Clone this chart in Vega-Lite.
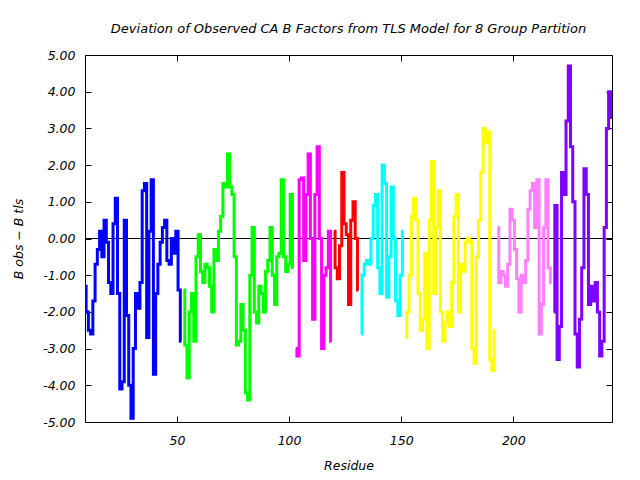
{
 "$schema": "https://vega.github.io/schema/vega-lite/v6.json",
 "width": 527, "height": 367,
 "autosize": "none",
 "padding": {"left": 85, "top": 55, "right": 28, "bottom": 58},
 "background": "white",
 "config": {"view": {"stroke": "black", "strokeWidth": 1}, "font": "DejaVu Sans"},
 "title": {"text": "Deviation of Observed CA B Factors from TLS Model for 8 Group Partition", "fontSize": 13, "font": "DejaVu Sans", "fontStyle": "italic", "fontWeight": "normal", "offset": 13, "anchor": "middle", "color": "black"},
 "datasets": {
  "d": [
   {"r":9,"v":-1.3,"g":"g1"},{"r":10,"v":-2.0,"g":"g1"},{"r":11,"v":-2.5,"g":"g1"},{"r":12,"v":-2.6,"g":"g1"},{"r":13,"v":-1.7,"g":"g1"},{"r":14,"v":-0.7,"g":"g1"},{"r":15,"v":-0.3,"g":"g1"},{"r":16,"v":0.2,"g":"g1"},{"r":17,"v":-0.5,"g":"g1"},{"r":18,"v":0.5,"g":"g1"},{"r":19,"v":-0.1,"g":"g1"},{"r":20,"v":-1.2,"g":"g1"},{"r":21,"v":-1.5,"g":"g1"},{"r":22,"v":0.4,"g":"g1"},{"r":23,"v":1.1,"g":"g1"},{"r":24,"v":-1.5,"g":"g1"},{"r":25,"v":-4.1,"g":"g1"},{"r":26,"v":-3.9,"g":"g1"},{"r":27,"v":0.5,"g":"g1"},{"r":28,"v":-2.1,"g":"g1"},{"r":29,"v":-4.0,"g":"g1"},{"r":30,"v":-4.9,"g":"g1"},{"r":31,"v":-3.0,"g":"g1"},{"r":32,"v":-1.5,"g":"g1"},{"r":33,"v":-1.9,"g":"g1"},{"r":34,"v":-1.2,"g":"g1"},{"r":35,"v":1.3,"g":"g1"},{"r":36,"v":1.5,"g":"g1"},{"r":37,"v":-2.7,"g":"g1"},{"r":38,"v":0.2,"g":"g1"},{"r":39,"v":1.6,"g":"g1"},{"r":40,"v":-3.7,"g":"g1"},{"r":41,"v":-1.5,"g":"g1"},{"r":42,"v":-0.7,"g":"g1"},{"r":43,"v":-0.1,"g":"g1"},{"r":44,"v":0.3,"g":"g1"},{"r":45,"v":0.5,"g":"g1"},{"r":46,"v":-0.6,"g":"g1"},{"r":47,"v":-0.7,"g":"g1"},{"r":48,"v":0.0,"g":"g1"},{"r":49,"v":-0.4,"g":"g1"},{"r":50,"v":0.2,"g":"g1"},{"r":51,"v":-1.4,"g":"g1"},{"r":52,"v":-2.8,"g":"g1"},
   {"r":53,"v":-1.4,"g":"g2"},{"r":54,"v":-2.9,"g":"g2"},{"r":55,"v":-3.8,"g":"g2"},{"r":56,"v":-2.0,"g":"g2"},{"r":57,"v":-1.5,"g":"g2"},{"r":58,"v":-2.8,"g":"g2"},{"r":59,"v":-0.5,"g":"g2"},{"r":60,"v":0.1,"g":"g2"},{"r":61,"v":-0.9,"g":"g2"},{"r":62,"v":-1.2,"g":"g2"},{"r":63,"v":-0.7,"g":"g2"},{"r":64,"v":-0.8,"g":"g2"},{"r":65,"v":-1.3,"g":"g2"},{"r":66,"v":-2.0,"g":"g2"},{"r":67,"v":-0.3,"g":"g2"},{"r":68,"v":-0.6,"g":"g2"},{"r":69,"v":0.2,"g":"g2"},{"r":70,"v":0.6,"g":"g2"},{"r":71,"v":1.5,"g":"g2"},{"r":72,"v":1.4,"g":"g2"},{"r":73,"v":2.3,"g":"g2"},{"r":74,"v":1.4,"g":"g2"},{"r":75,"v":1.2,"g":"g2"},{"r":76,"v":-0.5,"g":"g2"},{"r":77,"v":-2.9,"g":"g2"},{"r":78,"v":-2.8,"g":"g2"},{"r":79,"v":-1.8,"g":"g2"},{"r":80,"v":-2.5,"g":"g2"},{"r":81,"v":-4.2,"g":"g2"},{"r":82,"v":-4.4,"g":"g2"},{"r":83,"v":-1.0,"g":"g2"},{"r":84,"v":0.3,"g":"g2"},{"r":85,"v":-2.0,"g":"g2"},{"r":86,"v":-2.3,"g":"g2"},{"r":87,"v":-1.3,"g":"g2"},{"r":88,"v":-1.5,"g":"g2"},{"r":89,"v":-2.0,"g":"g2"},{"r":90,"v":-0.9,"g":"g2"},{"r":91,"v":-0.6,"g":"g2"},{"r":92,"v":0.3,"g":"g2"},{"r":93,"v":-1.0,"g":"g2"},{"r":94,"v":-1.8,"g":"g2"},{"r":95,"v":-0.5,"g":"g2"},{"r":96,"v":-0.4,"g":"g2"},{"r":97,"v":1.6,"g":"g2"},{"r":98,"v":-0.5,"g":"g2"},{"r":99,"v":-0.9,"g":"g2"},{"r":100,"v":-0.7,"g":"g2"},{"r":101,"v":1.2,"g":"g2"},{"r":102,"v":-0.8,"g":"g2"},
   {"r":103,"v":-3.0,"g":"g3"},{"r":104,"v":-3.2,"g":"g3"},{"r":105,"v":1.6,"g":"g3"},{"r":106,"v":1.65,"g":"g3"},{"r":107,"v":-0.6,"g":"g3"},{"r":108,"v":1.2,"g":"g3"},{"r":109,"v":2.3,"g":"g3"},{"r":110,"v":0.0,"g":"g3"},{"r":111,"v":-2.2,"g":"g3"},{"r":112,"v":1.2,"g":"g3"},{"r":113,"v":2.5,"g":"g3"},{"r":114,"v":0.0,"g":"g3"},{"r":115,"v":-3.0,"g":"g3"},{"r":116,"v":-1.0,"g":"g3"},{"r":117,"v":-0.8,"g":"g3"},{"r":118,"v":0.2,"g":"g3"},{"r":119,"v":-2.8,"g":"g3"},
   {"r":120,"v":0.2,"g":"g4"},{"r":121,"v":-0.8,"g":"g4"},{"r":122,"v":-1.1,"g":"g4"},{"r":123,"v":-0.2,"g":"g4"},{"r":124,"v":1.8,"g":"g4"},{"r":125,"v":0.4,"g":"g4"},{"r":126,"v":0.1,"g":"g4"},{"r":127,"v":-1.8,"g":"g4"},{"r":128,"v":0.5,"g":"g4"},{"r":129,"v":1.0,"g":"g4"},{"r":130,"v":0.0,"g":"g4"},{"r":131,"v":-1.4,"g":"g4"},
   {"r":132,"v":-2.6,"g":"g5"},{"r":133,"v":-1.0,"g":"g5"},{"r":134,"v":-0.7,"g":"g5"},{"r":135,"v":-0.6,"g":"g5"},{"r":136,"v":-0.7,"g":"g5"},{"r":137,"v":0.0,"g":"g5"},{"r":138,"v":0.9,"g":"g5"},{"r":139,"v":1.2,"g":"g5"},{"r":140,"v":-0.8,"g":"g5"},{"r":141,"v":-1.5,"g":"g5"},{"r":142,"v":2.0,"g":"g5"},{"r":143,"v":1.5,"g":"g5"},{"r":144,"v":-1.6,"g":"g5"},{"r":145,"v":-0.5,"g":"g5"},{"r":146,"v":1.4,"g":"g5"},{"r":147,"v":0.0,"g":"g5"},{"r":148,"v":-1.7,"g":"g5"},{"r":149,"v":-2.1,"g":"g5"},{"r":150,"v":-1.0,"g":"g5"},{"r":151,"v":0.2,"g":"g5"},
   {"r":152,"v":-2.7,"g":"g6"},{"r":153,"v":-2.0,"g":"g6"},{"r":154,"v":-1.0,"g":"g6"},{"r":155,"v":0.6,"g":"g6"},{"r":156,"v":1.1,"g":"g6"},{"r":157,"v":0.5,"g":"g6"},{"r":158,"v":-1.5,"g":"g6"},{"r":159,"v":-2.5,"g":"g6"},{"r":160,"v":-2.2,"g":"g6"},{"r":161,"v":-0.4,"g":"g6"},{"r":162,"v":-3.0,"g":"g6"},{"r":163,"v":0.5,"g":"g6"},{"r":164,"v":2.1,"g":"g6"},{"r":165,"v":-1.5,"g":"g6"},{"r":166,"v":0.3,"g":"g6"},{"r":167,"v":1.3,"g":"g6"},{"r":168,"v":-2.0,"g":"g6"},{"r":169,"v":-2.8,"g":"g6"},{"r":170,"v":-2.3,"g":"g6"},{"r":171,"v":-2.0,"g":"g6"},{"r":172,"v":-2.4,"g":"g6"},{"r":173,"v":-1.2,"g":"g6"},{"r":174,"v":0.6,"g":"g6"},{"r":175,"v":1.2,"g":"g6"},{"r":176,"v":-2.0,"g":"g6"},{"r":177,"v":-0.7,"g":"g6"},{"r":178,"v":-0.9,"g":"g6"},{"r":179,"v":-0.1,"g":"g6"},{"r":180,"v":0.0,"g":"g6"},{"r":181,"v":-0.1,"g":"g6"},{"r":182,"v":-3.0,"g":"g6"},{"r":183,"v":-3.4,"g":"g6"},{"r":184,"v":-0.5,"g":"g6"},{"r":185,"v":0.5,"g":"g6"},{"r":186,"v":1.8,"g":"g6"},{"r":187,"v":3.0,"g":"g6"},{"r":188,"v":2.6,"g":"g6"},{"r":189,"v":2.9,"g":"g6"},{"r":190,"v":-3.3,"g":"g6"},{"r":191,"v":-3.6,"g":"g6"},{"r":192,"v":-2.5,"g":"g6"},
   {"r":193,"v":0.3,"g":"g7"},{"r":194,"v":-1.2,"g":"g7"},{"r":195,"v":-0.9,"g":"g7"},{"r":196,"v":-1.0,"g":"g7"},{"r":197,"v":-1.3,"g":"g7"},{"r":198,"v":-0.7,"g":"g7"},{"r":199,"v":0.8,"g":"g7"},{"r":200,"v":0.5,"g":"g7"},{"r":201,"v":-0.3,"g":"g7"},{"r":202,"v":-1.1,"g":"g7"},{"r":203,"v":-2.0,"g":"g7"},{"r":204,"v":-1.0,"g":"g7"},{"r":205,"v":-1.2,"g":"g7"},{"r":206,"v":-0.6,"g":"g7"},{"r":207,"v":0.8,"g":"g7"},{"r":208,"v":1.3,"g":"g7"},{"r":209,"v":1.5,"g":"g7"},{"r":210,"v":0.3,"g":"g7"},{"r":211,"v":1.6,"g":"g7"},{"r":212,"v":-2.6,"g":"g7"},{"r":213,"v":-1.8,"g":"g7"},{"r":214,"v":0.3,"g":"g7"},{"r":215,"v":1.6,"g":"g7"},{"r":216,"v":-0.8,"g":"g7"},{"r":217,"v":-1.2,"g":"g7"},
   {"r":218,"v":-2.0,"g":"g8"},{"r":219,"v":0.9,"g":"g8"},{"r":220,"v":-3.3,"g":"g8"},{"r":221,"v":-2.4,"g":"g8"},{"r":222,"v":1.8,"g":"g8"},{"r":223,"v":1.2,"g":"g8"},{"r":224,"v":3.2,"g":"g8"},{"r":225,"v":4.7,"g":"g8"},{"r":226,"v":2.5,"g":"g8"},{"r":227,"v":1.0,"g":"g8"},{"r":228,"v":-2.6,"g":"g8"},{"r":229,"v":-3.5,"g":"g8"},{"r":230,"v":-2.2,"g":"g8"},{"r":231,"v":-0.8,"g":"g8"},{"r":232,"v":1.9,"g":"g8"},{"r":233,"v":1.2,"g":"g8"},{"r":234,"v":-1.8,"g":"g8"},{"r":235,"v":-1.3,"g":"g8"},{"r":236,"v":-1.7,"g":"g8"},{"r":237,"v":-1.2,"g":"g8"},{"r":238,"v":-2.0,"g":"g8"},{"r":239,"v":-3.2,"g":"g8"},{"r":240,"v":-2.8,"g":"g8"},{"r":241,"v":0.3,"g":"g8"},{"r":242,"v":3.0,"g":"g8"},{"r":243,"v":4.0,"g":"g8"},{"r":244,"v":3.3,"g":"g8"}
  ]
 },
 "resolve": {"axis": {"x": "independent", "y": "independent"}},
 "layer": [
  {
   "data": {"values": [{"z": 0}]},
   "mark": {"type": "rule", "color": "black", "strokeWidth": 1},
   "encoding": {
    "y": {"field": "z", "type": "quantitative", "scale": {"domain": [-5, 5], "nice": false},
          "axis": {"orient": "right", "values": [-5,-4,-3,-2,-1,0,1,2,3,4,5], "labels": false, "title": null, "domain": false, "tickSize": -6, "tickColor": "black", "grid": false}}
   }
  },
  {
   "data": {"name": "d"},
   "mark": {"type": "line", "interpolate": "step", "strokeWidth": 3, "clip": true},
   "encoding": {
    "x": {"field": "r", "type": "quantitative", "scale": {"domain": [9, 244], "nice": false, "zero": false},
          "axis": {"values": [50,100,150,200], "title": "Residue", "grid": false, "domain": false, "tickSize": -6, "tickColor": "black", "labelPadding": 18, "labelFont": "DejaVu Sans", "labelFontStyle": "italic", "labelFontSize": 12.5, "labelColor": "black", "titleFont": "DejaVu Sans", "titleFontStyle": "italic", "titleFontWeight": "normal", "titleFontSize": 12.5, "titleColor": "black", "titlePadding": 13}},
    "y": {"field": "v", "type": "quantitative", "scale": {"domain": [-5, 5], "nice": false},
          "axis": {"values": [-5,-4,-3,-2,-1,0,1,2,3,4,5], "labelExpr": "replace(format(datum.value, '.2f'), '\u2212', '-')", "title": "B obs \u2212 B tls", "grid": false, "domain": false, "tickSize": -6, "tickColor": "black", "labelPadding": 16, "labelFont": "DejaVu Sans", "labelFontStyle": "italic", "labelFontSize": 12.5, "labelColor": "black", "titleFont": "DejaVu Sans", "titleFontStyle": "italic", "titleFontWeight": "normal", "titleFontSize": 12.5, "titleColor": "black", "titlePadding": 17}},
    "color": {"field": "g", "type": "nominal", "legend": null,
              "scale": {"domain": ["g1","g2","g3","g4","g5","g6","g7","g8"], "range": ["#0000ff","#00ff00","#ff00ff","#ff0000","#00ffff","#ffff00","#ff80ff","#8000ff"]}}
   }
  },
  {
   "data": {"name": "d"},
   "mark": {"type": "point", "opacity": 0},
   "encoding": {
    "x": {"field": "r", "type": "quantitative", "axis": {"orient": "top", "values": [50,100,150,200], "labels": false, "title": null, "domain": false, "tickSize": -6, "tickColor": "black", "grid": false}},
    "y": {"field": "v", "type": "quantitative", "axis": null}
   }
  }
 ]
}
